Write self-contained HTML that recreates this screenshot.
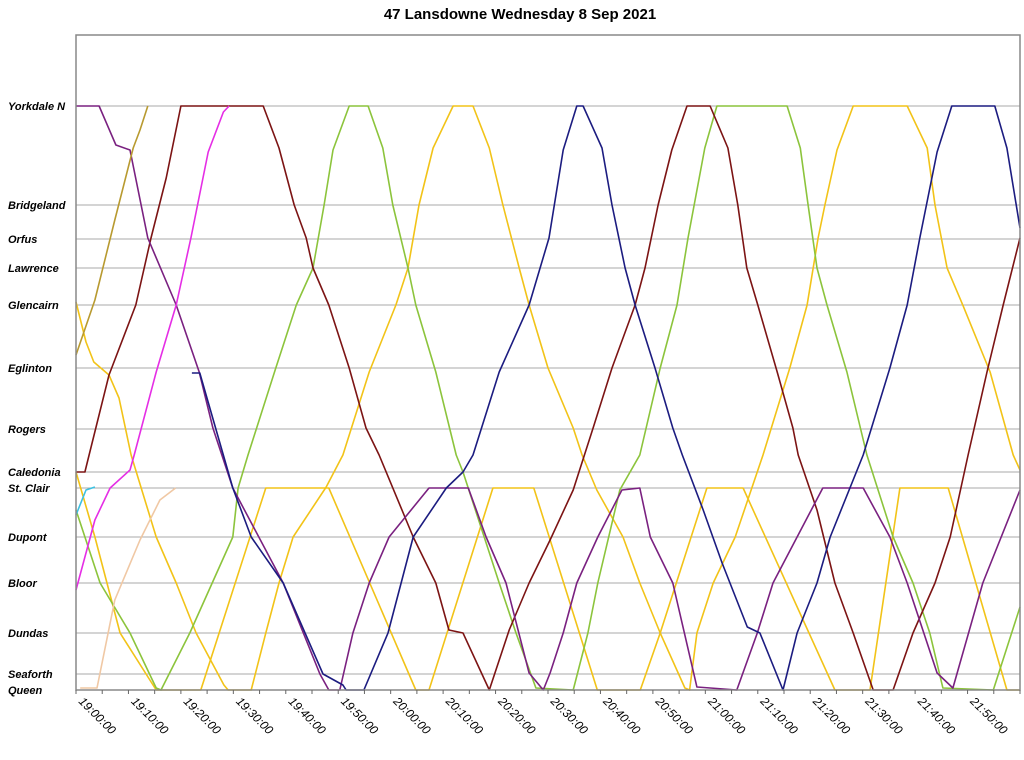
<!DOCTYPE html>
<html><head><meta charset="utf-8"><style>
body{margin:0;background:#fff;}
svg text{font-family:"Liberation Sans",Arial,sans-serif;}
</style></head><body>
<svg id="chart" width="1024" height="755" xmlns="http://www.w3.org/2000/svg">
<text x="520" y="19" text-anchor="middle" font-size="15" font-weight="bold">47 Lansdowne Wednesday 8 Sep 2021</text>
<g id="grid"></g><g id="series"></g><g id="axes"></g>
</svg>
<script>
const stationNames = ["Queen","Seaforth","Dundas","Bloor","Dupont","St. Clair","Caledonia","Rogers","Eglinton","Glencairn","Lawrence","Orfus","Bridgeland","Yorkdale N"];
const stationPos = [0,16,57,107,153,202,218,261,322,385,422,451,485,584];
const tickLabels = ["19:00:00","19:10:00","19:20:00","19:30:00","19:40:00","19:50:00","20:00:00","20:10:00","20:20:00","20:30:00","20:40:00","20:50:00","21:00:00","21:10:00","21:20:00","21:30:00","21:40:00","21:50:00"];
const goldLong = [[0,388],[1.9,348],[3.4,328],[6.3,315],[8.2,292],[10.5,235],[15.3,153],[19.1,107],[22.9,57],[28.2,5],[29,0],[33.4,0],[36.2,57],[38.7,107],[41.4,153],[47.7,203],[50.9,235],[55.9,318],[61,385],[63.3,422],[65.4,485],[68.1,542],[71.9,584],[75.7,584],[78.8,542],[81.4,485],[84.5,422],[86.4,385],[90,322],[94.8,262],[96.5,235],[99.3,200],[104.3,153],[107.5,107],[111.4,57],[116.1,2],[117,0],[118.4,57],[121.5,107],[125.7,153],[131,235],[136.1,322],[139.4,385],[141.5,452],[142.8,485],[145.1,540],[148.2,584],[158.5,584],[162.3,542],[163.8,485],[166.1,422],[169.1,385],[174.3,318],[178.7,235],[180,220]];
const goldShort = [[0,218],[3.6,153],[8.4,57],[15.3,0],[23.8,0],[36.2,202],[48.2,202],[64.8,0],[67.3,0],[79.5,202],[87.3,202],[99.4,0],[107.6,0],[111.4,57],[120.3,202],[127.2,202],[144.7,0],[151.4,0],[157.1,202],[166.3,202],[177.5,0],[180,0]];
const green = [[0,180],[4.6,107],[10.3,57],[15.3,2],[16.2,0],[21.7,57],[29.9,153],[30.9,202],[32.8,235],[38.1,322],[42,385],[45.2,422],[47.3,485],[49,540],[52.1,584],[55.7,584],[58.5,542],[60.4,485],[63.3,422],[64.8,385],[68.6,318],[72.5,235],[73.8,218],[80.7,107],[83.9,57],[87.7,2],[94.8,0],[97.6,57],[99.5,107],[103.7,200],[107.5,235],[111.4,322],[114.6,385],[116.7,452],[119.9,542],[122.2,584],[135.6,584],[138.1,542],[139.6,485],[141.3,422],[143.2,385],[147,318],[150.8,235],[155.8,153],[159.6,107],[162.8,57],[165.3,2],[174.9,0],[180,83]];
const navy = [[22.1,317],[23.6,317],[29.9,202],[33.4,153],[39.5,107],[47.1,16],[50.9,5],[51.5,0],[54.9,0],[59.5,57],[64.3,153],[70.6,202],[73.8,218],[75.7,235],[80.7,318],[86.4,385],[90.2,452],[92.9,540],[95.5,584],[96.7,584],[100.3,542],[102.2,485],[104.7,422],[106.6,385],[110.4,322],[113.8,262],[115.6,235],[119.6,180],[123.2,127],[128,63],[130.4,57],[134.8,0],[137.5,57],[141.3,107],[143.8,153],[150.1,235],[155.2,322],[158.5,385],[160.9,452],[164.2,538],[167,584],[175.2,584],[177.5,542],[180,462]];
const purple = [[0,584],[4.4,584],[7.6,545],[10.3,540],[13.7,452],[19.1,385],[23.5,318],[26.1,262],[29.9,202],[39.5,107],[46.5,16],[48.2,0],[50.3,0],[52.8,57],[55.9,107],[59.7,153],[67.3,202],[74.8,202],[78.2,153],[82,107],[86.4,17],[89.1,0],[90.4,17],[92.9,57],[95.5,107],[99.5,153],[104.1,200],[107.5,202],[109.5,153],[113.8,107],[118.4,3],[126,0],[129.9,57],[132.9,107],[137.5,153],[142.4,202],[150.1,202],[152.7,177],[155.2,153],[158.5,107],[164.2,17],[167.2,2],[172.9,107],[180,200]];
const maroon = [[0,218],[1.7,218],[2.5,235],[6.3,315],[11.4,385],[14.3,452],[17.2,512],[20,584],[35.7,584],[38.7,542],[41.6,485],[43.9,452],[45.2,422],[48.2,385],[52.1,322],[55.3,262],[57.8,235],[64.3,153],[68.6,107],[71.1,60],[73.8,57],[78.8,0],[82.6,60],[86.4,107],[90.4,150],[94.8,200],[98.6,262],[102.2,322],[106.6,385],[108.5,422],[111,485],[113.6,540],[116.5,584],[120.9,584],[124.3,542],[126.2,485],[127.9,422],[130,385],[133.7,318],[136.7,262],[137.7,235],[141.3,180],[144.7,107],[148.2,57],[152,0],[155.8,0],[159.6,57],[163.8,107],[166.7,153],[170.1,235],[173.7,318],[176.8,385],[180,452]];
const magenta = [[0,100],[3.6,170],[6.5,202],[10.3,220],[11.1,235],[15.3,318],[19.1,385],[21.9,452],[25.2,538],[28.1,578],[29.2,584]];
const olive = [[0,335],[3.6,390],[7.4,470],[10.9,542],[12.2,560],[13.7,584]];
const peach = [[0.8,2],[4,2],[7.4,90],[12.2,150],[16,190],[19,202]];
const cyan = [[0,175],[1.9,200],[3.6,203]];

const X0=76,X1=1020,Y0=690,Y1=106,T=35;
const xs = m => X0 + m*(X1-X0)/180;
const ys = v => Y0 - v*(Y0-Y1)/584;
const NS="http://www.w3.org/2000/svg";
function mk(tag, attrs, parent){const e=document.createElementNS(NS,tag);for(const k in attrs)e.setAttribute(k,attrs[k]);parent.appendChild(e);return e;}
const grid=document.getElementById('grid'), ser=document.getElementById('series'), ax=document.getElementById('axes');
stationNames.forEach((n,i)=>{
  const y=ys(stationPos[i]);
  if(i>0){const l=mk('line',{x1:X0,x2:X1,y1:y,y2:y,stroke:'#a8a8a8','stroke-width':1},grid);
  
  }
  const t=mk('text',{x:8,y:y+4,'font-size':11,'font-weight':'bold','font-style':'italic'},ax);
  t.textContent=n;
  
  
});
const fr=mk('rect',{x:X0,y:T,width:X1-X0,height:Y0-T,fill:'none',stroke:'#888','stroke-width':1.5},ax);


for(let m=0;m<=180;m+=5){const x=xs(m);const tk=mk('line',{x1:x,x2:x,y1:Y0,y2:Y0+4,stroke:'#666'},ax);

}
tickLabels.forEach((s,i)=>{const x=xs(i*10)+2,y=702;
  const t=mk('text',{x:x,y:y,'font-size':12,'font-style':'italic',transform:`rotate(45 ${x} ${y})`},ax);
  t.textContent=s;
  
  });
const series=[[goldLong,'#f2c318','gold-long-trip'],[goldShort,'#f2c318','gold-short-trip'],[green,'#8cc43c','green-trip'],[maroon,'#7c1414','maroon-trip'],[purple,'#7a2180','purple-trip'],[navy,'#1c1c80','navy-trip'],[magenta,'#e52ee5','magenta-trip'],[olive,'#b89a30','olive-trip'],[peach,'#f0c8a4','peach-trip'],[cyan,'#3cc0e0','cyan-trip']];
series.forEach(([d,c,n])=>{
  const p=mk('polyline',{points:d.map(q=>xs(q[0]).toFixed(1)+','+ys(q[1]).toFixed(1)).join(' '),fill:'none',stroke:c,'stroke-width':1.6,'stroke-linejoin':'round'},ser);
  
  
});
</script>
</body></html>
